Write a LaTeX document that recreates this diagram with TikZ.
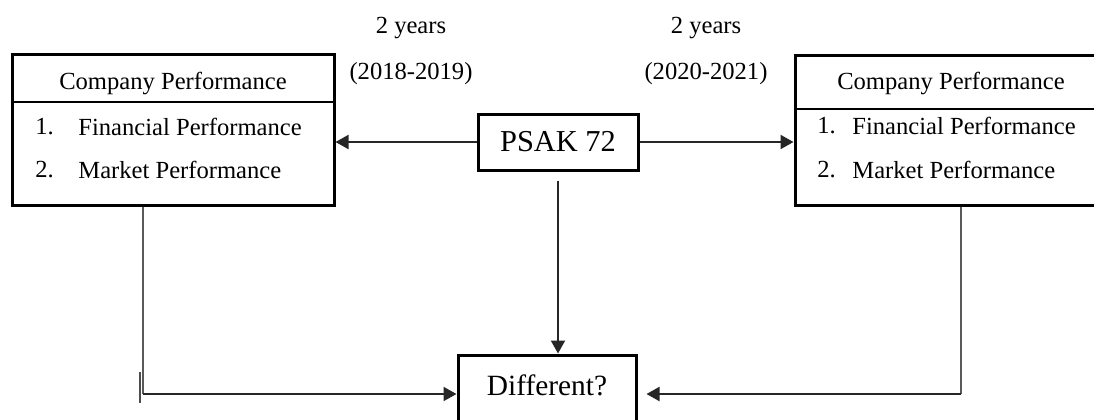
\documentclass[tikz,border=0pt]{standalone}
\usepackage{fontspec}
\setmainfont{Liberation Serif}
\usetikzlibrary{arrows.meta}
\begin{document}
\begin{tikzpicture}[x=0.5pt,y=-0.5pt,
  box/.style={draw=black,line width=1.5pt,rectangle,inner sep=0pt},
  txt/.style={inner sep=0pt,font=\fontsize{12.3}{14}\selectfont},
  ltxt/.style={txt,anchor=west},
  conn/.style={draw=black!85,line width=1pt,-{Triangle[length=6.5pt,width=7pt]}},
  plain/.style={draw=black!65,line width=1pt}
]
\useasboundingbox (0,0) rectangle (1094,419);
% boxes
\node[box,minimum width=161pt,minimum height=75.5pt] (lbox) at (173,129.5) {};
\node[box,minimum width=152pt,minimum height=75pt] (rbox) at (947,130) {};
\node[box,minimum width=80pt,minimum height=28pt] (psak) at (558,142) {};
\node[box,minimum width=89pt,minimum height=40pt] (diff) at (547,395) {};
% dividers
\draw[line width=0.6pt] (lbox.west |- 0,102) -- (lbox.east |- 0,102);
\draw[line width=0.6pt] (rbox.west |- 0,109) -- (rbox.east |- 0,109);
% texts
\node[txt] (lhead) at (173,83) {Company Performance};
\node[ltxt] (lone) at (35,127) {1.};
\node[ltxt] (lfin) at (78,127) {Financial Performance};
\node[ltxt] (ltwo) at (35,170) {2.};
\node[ltxt] (lmkt) at (78,170) {Market Performance};
\node[txt] (rhead) at (951,83) {Company Performance};
\node[ltxt] (rone) at (817,126) {1.};
\node[ltxt] (rfin) at (852,126) {Financial Performance};
\node[ltxt] (rtwo) at (817,170) {2.};
\node[ltxt] (rmkt) at (852,170) {Market Performance};
\node[txt,font=\fontsize{15.2}{18}\selectfont] (psaktext) at (psak.center) {PSAK 72};
\node[txt,font=\fontsize{14.7}{18}\selectfont] (difftext) at (547,385) {Different?};
\node[txt] (ly1) at (411,28) {2 years};
\node[txt] (ly2) at (411,74) {(2018-2019)};
\node[txt] (ry1) at (706,28) {2 years};
\node[txt] (ry2) at (706,74) {(2020-2021)};
% coordinates
\coordinate (lcorner) at (143,394);
\coordinate (rcorner) at (961,394);
\coordinate (bar1) at (140,372);
\coordinate (bar2) at (140,403);
% connectors
\draw[conn] (psak.west) -- (lbox.east |- psak.west);
\draw[conn] (psak.east) -- (rbox.west |- psak.east);
\draw[conn,shorten <=4.5pt] (psak.south) -- (psak.south |- diff.north);
\draw[plain] (lbox.south -| lcorner) -- (lcorner);
\draw[conn] (lcorner) -- (diff.west |- lcorner);
\draw[plain] (rbox.south -| rcorner) -- (rcorner);
\draw[conn,shorten >=4.5pt] (rcorner) -- (diff.east |- rcorner);
\draw[draw=black!70,line width=0.8pt] (bar1) -- (bar2);
\end{tikzpicture}
\end{document}
